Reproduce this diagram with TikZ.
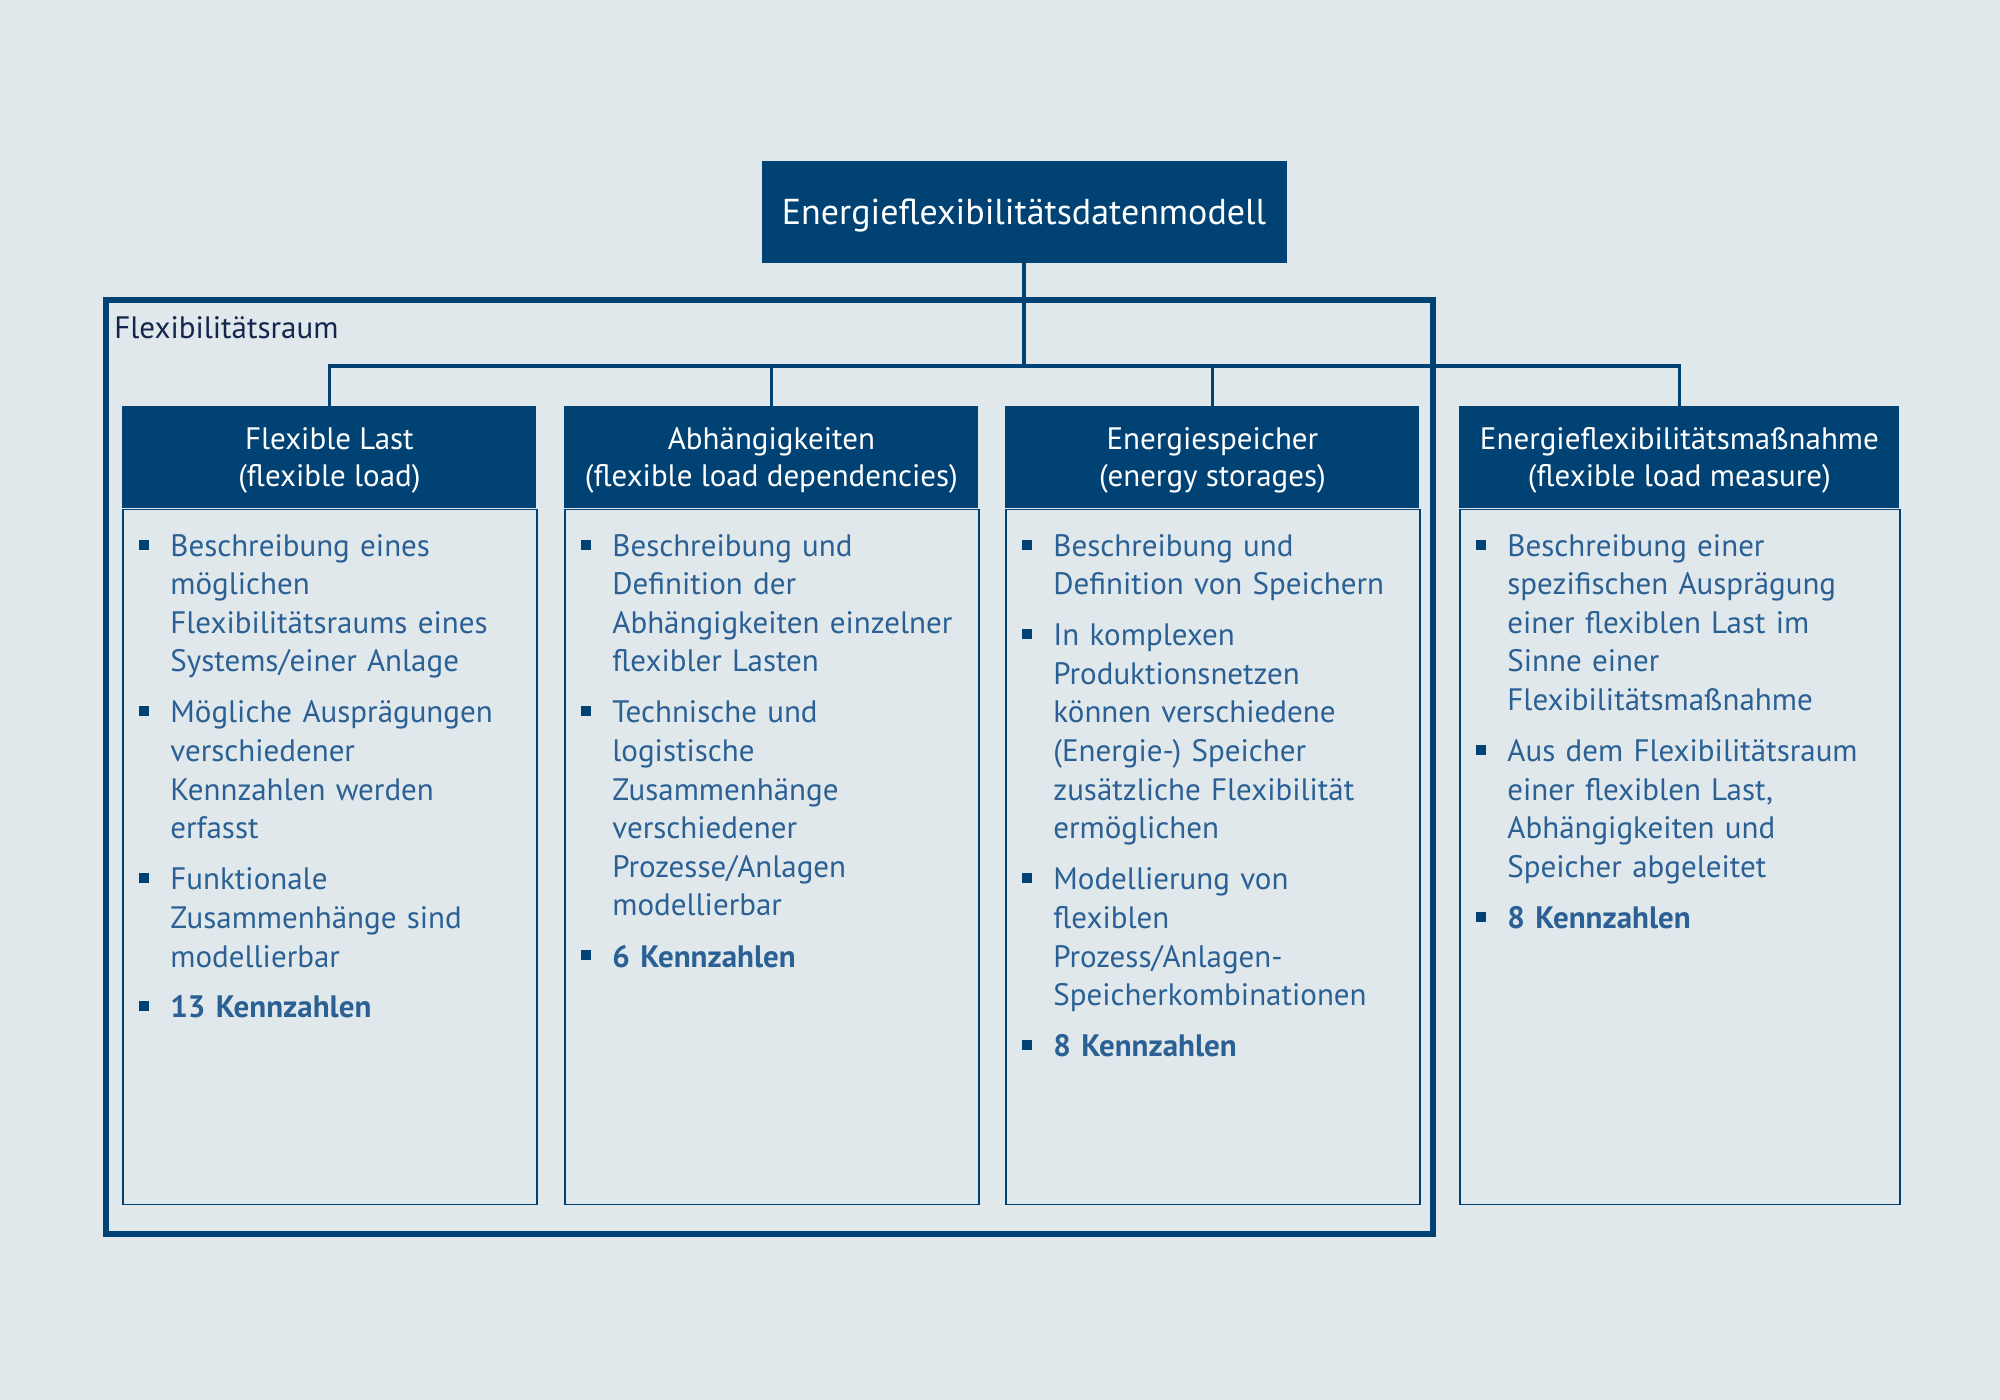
\documentclass[tikz,border=0pt]{standalone}
\usepackage{fontspec}
\setmainfont{PT Sans}
\definecolor{hintergrund}{HTML}{E0E8EC}
\definecolor{dunkelblau}{HTML}{004274}
\definecolor{textblau}{HTML}{2A6093}
\definecolor{raumblau}{HTML}{14264D}
\tikzset{
kopf/.style={anchor=north west, fill=dunkelblau, text=white, align=center, minimum height=51pt, inner sep=0pt, text depth=0pt, font=\fontsize{15.5}{18.5}\selectfont},
wurzelbox/.style={fill=dunkelblau, text=white, minimum width=262.5pt, minimum height=51pt, inner sep=0pt, text depth=0pt, font=\fontsize{18}{22}\selectfont},
koerper/.style={anchor=north west, draw=dunkelblau, line width=0.75pt, minimum height=347.5pt, inner sep=0pt},
liste/.style={anchor=north west, text=textblau, align=left, inner sep=0pt, font=\fontsize{15.5}{19.3}\selectfont},
verbindung/.style={draw=dunkelblau, line width=1.9pt},
raum/.style={draw=dunkelblau, line width=2.85pt}
}
\newcommand{\punkt}[1]{%
\par\leftskip=24pt\noindent\hskip-24pt\hbox to 24pt{\hskip8.5pt\textcolor{dunkelblau}{\rule[3.3pt]{5pt}{5pt}}\hfil}#1\par\vspace{6.2pt}%
}
\newcommand{\saeule}[4]{%
\node[kopf, minimum width=#2] (kopf#1) at (0,0) {#3};
\node[koerper, minimum width=#2] (koerper#1) at (kopf#1.south west) {};
\node[liste, text width=#2, yshift=-4.2pt] (liste#1) at (koerper#1.north west) {#4};
}
\begin{document}
\begin{tikzpicture}[x=0.5pt,y=-0.5pt]

\fill[hintergrund] (0,0) rectangle (2000,1400);
\useasboundingbox (0,0) rectangle (2000,1400);

\draw[raum] (106,300) rectangle (1433,1234);
\node[anchor=base west, inner sep=0pt, text=raumblau, font=\fontsize{15.5}{18.5}\selectfont] (raumtitel) at (114,339) {Flexibilitätsraum};

\node[wurzelbox] (wurzel) at (1024,212) {Energieflexibilitätsdatenmodell};


\begin{scope}[shift={(122,406)}]
\saeule{1}{207pt}{Flexible Last\\(flexible load)}{%
\punkt{Beschreibung eines\\möglichen\\Flexibilitätsraums eines\\Systems/einer Anlage}
\punkt{Mögliche Ausprägungen\\verschiedener\\Kennzahlen werden\\erfasst}
\punkt{Funktionale\\Zusammenhänge sind\\modellierbar}
\punkt{\textbf{13 Kennzahlen}}
}
\end{scope}

\begin{scope}[shift={(564,406)}]
\saeule{2}{207pt}{Abhängigkeiten\\(flexible load dependencies)}{%
\punkt{Beschreibung und\\Definition der\\Abhängigkeiten einzelner\\flexibler Lasten}
\punkt{Technische und\\logistische\\Zusammenhänge\\verschiedener\\Prozesse/Anlagen\\modellierbar}
\punkt{\textbf{6 Kennzahlen}}
}
\end{scope}

\begin{scope}[shift={(1005,406)}]
\saeule{3}{207pt}{Energiespeicher\\(energy storages)}{%
\punkt{Beschreibung und\\Definition von Speichern}
\punkt{In komplexen\\Produktionsnetzen\\können verschiedene\\(Energie-) Speicher\\zusätzliche Flexibilität\\ermöglichen}
\punkt{Modellierung von\\flexiblen\\Prozess/Anlagen-\\Speicherkombinationen}
\punkt{\textbf{8 Kennzahlen}}
}
\end{scope}

\begin{scope}[shift={(1459,406)}]
\saeule{4}{220pt}{Energieflexibilitätsmaßnahme\\(flexible load measure)}{%
\punkt{Beschreibung einer\\spezifischen Ausprägung\\einer flexiblen Last im\\Sinne einer\\Flexibilitätsmaßnahme}
\punkt{Aus dem Flexibilitätsraum\\einer flexiblen Last,\\Abhängigkeiten und\\Speicher abgeleitet}
\punkt{\textbf{8 Kennzahlen}}
}
\end{scope}


\coordinate (schiene) at (1024,366);
\draw[verbindung] (wurzel.south) -- (schiene);
\draw[verbindung] (kopf1.north) |- (schiene) -| (kopf4.north);
\draw[verbindung] (kopf2.north) -- (kopf2.north |- schiene);
\draw[verbindung] (kopf3.north) -- (kopf3.north |- schiene);

\end{tikzpicture}
\end{document}
